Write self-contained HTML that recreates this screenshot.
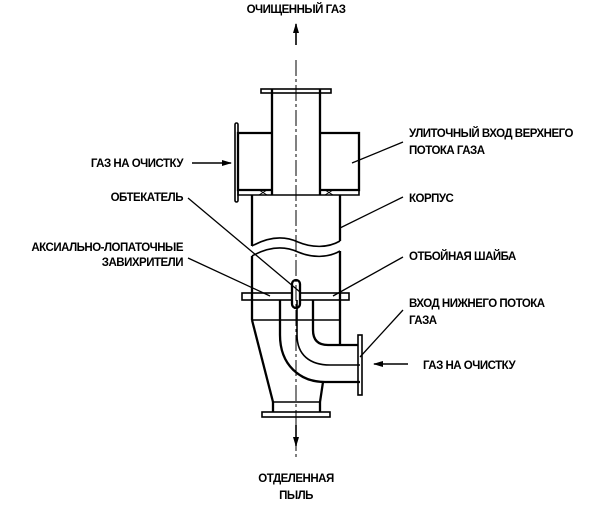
<!DOCTYPE html>
<html><head><meta charset="utf-8"><style>
body{margin:0;background:#fff}
svg{display:block}
text{font-family:"Liberation Sans",sans-serif;font-weight:bold;font-size:11.5px;letter-spacing:-0.5px;fill:#000}
</style></head><body>
<svg width="600" height="506" viewBox="0 0 600 506" xmlns="http://www.w3.org/2000/svg">
<defs><marker id="ah" markerWidth="10" markerHeight="8" refX="9" refY="4" orient="auto" markerUnits="userSpaceOnUse"><path d="M0,1 L10,4 L0,7 Z" fill="#000"/></marker></defs>
<g fill="none" stroke="#000" stroke-width="2.3">
<rect x="261" y="89" width="70" height="4" stroke-width="1.6"/>
<line x1="272" y1="89" x2="272" y2="195"/>
<line x1="320" y1="89" x2="320" y2="195"/>
<line x1="272" y1="195" x2="320" y2="195" stroke-width="1.6"/>
<path d="M272,133 H238 V190 H272"/>
<rect x="235" y="123" width="3" height="79" rx="1.5" stroke-width="1.6"/>
<path d="M320,133 H359 V190 H320"/>
<path d="M238,190 V195 H272 M320,195 H359 V190" stroke-width="1.6"/>
<path d="M259,190 L267,195 M267,190 L259,195 M325,190 L333,195 M333,190 L325,195" stroke-width="1"/>
<line x1="252" y1="195" x2="252" y2="246"/>
<line x1="340" y1="195" x2="340" y2="241"/>
<path d="M252,246 C270,236 285,236 298,242 C312,248 328,248 340,241" stroke-width="1.6"/>
<path d="M252,256 C270,246 285,246 298,252 C312,258 328,258 340,251" stroke-width="1.6"/>
<line x1="252" y1="256" x2="252" y2="320"/>
<line x1="340" y1="251" x2="340" y2="345"/>
<rect x="242" y="293" width="107" height="7" stroke-width="1.6"/>
<line x1="252" y1="320" x2="340" y2="320" stroke-width="1.6"/>
<rect x="292" y="280" width="8" height="28" rx="4" fill="#fff"/>
<path d="M252,320 L273,402"/>
<path d="M323,382 L320,402"/>
<line x1="273" y1="402" x2="320" y2="402" stroke-width="1.6"/>
<line x1="273" y1="402" x2="273" y2="412"/>
<line x1="320" y1="402" x2="320" y2="412"/>
<rect x="262" y="412" width="68" height="5" stroke-width="1.6"/>
<path d="M280,300 V335 C280,365 300,382 325,382 H360"/>
<path d="M297,300 V335 C297,355 310,365 330,365 H360" stroke-width="1.6"/>
<path d="M313,300 V330 C313,340 318,345 328,345 H358"/>
<rect x="358" y="335" width="4" height="60" stroke-width="1.6"/>
</g>
<line x1="296" y1="60" x2="296" y2="460" stroke="#000" stroke-width="1" stroke-dasharray="16,3,3,3"/>
<g stroke="#000" stroke-width="1.6" fill="none">
<line x1="296" y1="45" x2="296" y2="24" marker-end="url(#ah)"/>
<line x1="296" y1="425" x2="296" y2="446" marker-end="url(#ah)"/>
<line x1="192" y1="163" x2="231" y2="163" marker-end="url(#ah)"/>
<line x1="408" y1="364" x2="374" y2="364" marker-end="url(#ah)"/>
</g>
<g stroke="#000" stroke-width="1.3">
<line x1="188" y1="198" x2="300" y2="292"/>
<line x1="188" y1="258" x2="270" y2="296"/>
<line x1="403" y1="142" x2="352" y2="163"/>
<line x1="403" y1="197" x2="340" y2="228"/>
<line x1="403" y1="257" x2="333" y2="296"/>
<line x1="403" y1="310" x2="360" y2="357"/>
</g>
<text x="296" y="13" text-anchor="middle">ОЧИЩЕННЫЙ ГАЗ</text>
<text x="183" y="167" text-anchor="end">ГАЗ НА ОЧИСТКУ</text>
<text x="183" y="201" text-anchor="end">ОБТЕКАТЕЛЬ</text>
<text x="183" y="251" text-anchor="end">АКСИАЛЬНО-ЛОПАТОЧНЫЕ</text>
<text x="183" y="266" text-anchor="end">ЗАВИХРИТЕЛИ</text>
<text x="409" y="137">УЛИТОЧНЫЙ ВХОД ВЕРХНЕГО</text>
<text x="409" y="154">ПОТОКА ГАЗА</text>
<text x="409" y="202">КОРПУС</text>
<text x="409" y="260">ОТБОЙНАЯ ШАЙБА</text>
<text x="409" y="307">ВХОД НИЖНЕГО ПОТОКА</text>
<text x="409" y="324">ГАЗА</text>
<text x="423" y="369">ГАЗ НА ОЧИСТКУ</text>
<text x="296" y="482" text-anchor="middle">ОТДЕЛЕННАЯ</text>
<text x="296" y="499" text-anchor="middle">ПЫЛЬ</text>
</svg>
</body></html>
